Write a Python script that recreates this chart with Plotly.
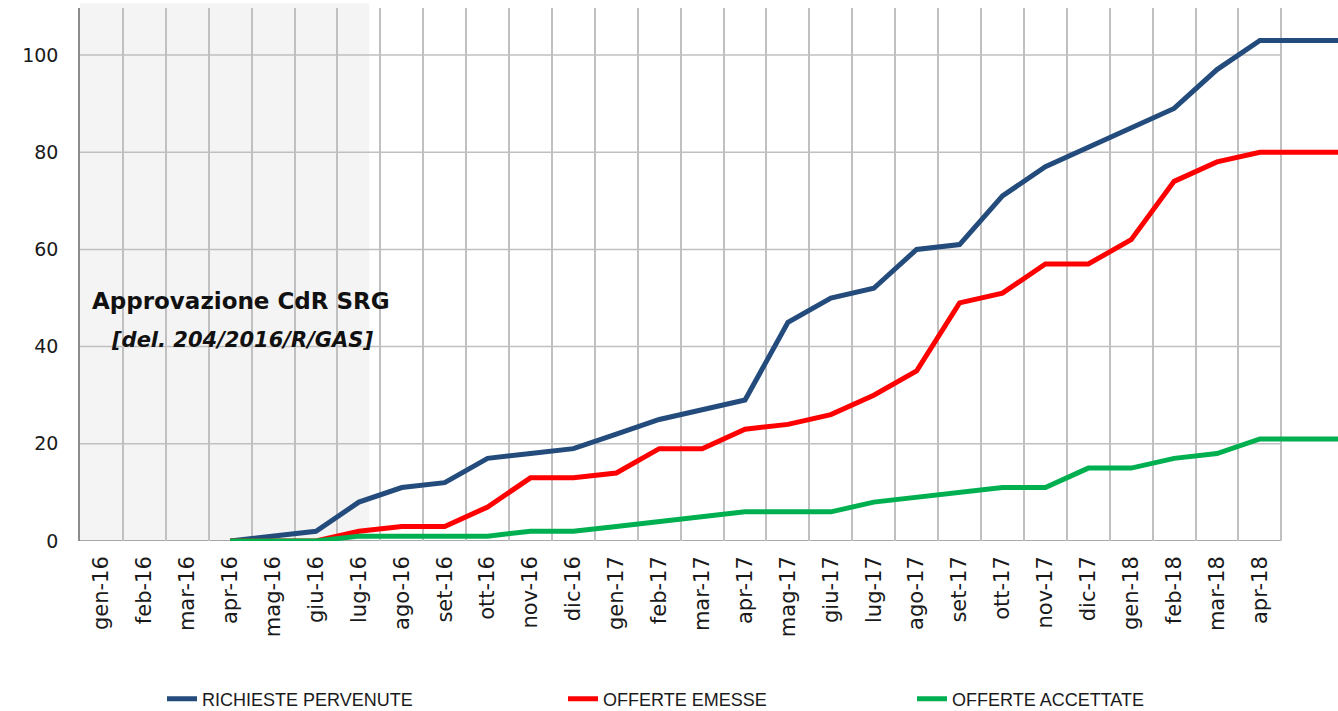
import plotly.graph_objects as go

months = ["gen-16", "feb-16", "mar-16", "apr-16", "mag-16", "giu-16", "lug-16",
          "ago-16", "set-16", "ott-16", "nov-16", "dic-16", "gen-17", "feb-17",
          "mar-17", "apr-17", "mag-17", "giu-17", "lug-17", "ago-17", "set-17",
          "ott-17", "nov-17", "dic-17", "gen-18", "feb-18", "mar-18", "apr-18"]
# unlabeled continuation periods after apr-18 (lines run on flat to the edge)
ext_months = ["mag-18", "giu-18"]

richieste_pervenute = [None, None, None, 0, 1, 2, 8, 11, 12, 17, 18, 19, 22, 25, 27, 29,
                       45, 50, 52, 60, 61, 71, 77, 81, 85, 89, 97, 103, 103, 103]
offerte_emesse = [None, None, None, 0, 0, 0, 2, 3, 3, 7, 13, 13, 14, 19, 19, 23,
                  24, 26, 30, 35, 49, 51, 57, 57, 62, 74, 78, 80, 80, 80]
offerte_accettate = [None, None, None, 0, 0, 0, 1, 1, 1, 1, 2, 2, 3, 4, 5, 6,
                     6, 6, 8, 9, 10, 11, 11, 15, 15, 17, 18, 21, 21, 21]

y_ticks = [0, 20, 40, 60, 80, 100]
approval_period_end = 6.24  # shaded region ends shortly after lug-16

all_periods = months + ext_months
xi = list(range(len(all_periods)))
n = len(months)

series = [
    ("RICHIESTE PERVENUTE", richieste_pervenute, "#234B7C", "legend"),
    ("OFFERTE EMESSE", offerte_emesse, "#FF0000", "legend2"),
    ("OFFERTE ACCETTATE", offerte_accettate, "#00B050", "legend3"),
]

fig = go.Figure()
for name, vals, col, lg in series:
    fig.add_trace(go.Scatter(
        x=xi, y=vals, name=name, mode="lines",
        line=dict(color=col, width=5), legend=lg, hoverinfo="skip",
    ))

shapes = []
# shaded approval period
shapes.append(dict(type="rect", xref="x", yref="paper", x0=-0.5, x1=approval_period_end,
                   y0=0, y1=1.009, fillcolor="#F4F4F4", line=dict(width=0), layer="below"))
# horizontal gridlines (stop at last category boundary)
for v in y_ticks[1:]:
    shapes.append(dict(type="line", xref="x", yref="y", x0=-0.5, x1=n - 0.5, y0=v, y1=v,
                       line=dict(color="#C0C0C0", width=1.5), layer="below"))
# x axis baseline
shapes.append(dict(type="line", xref="x", yref="y", x0=-0.5, x1=n - 0.5, y0=0, y1=0,
                   line=dict(color="#8C8C8C", width=1.5), layer="below"))

tick_font_y = dict(family="DejaVu Sans, Verdana, sans-serif", size=19, color="#1A1A1A")
tick_font_x = dict(family="DejaVu Sans, Verdana, sans-serif", size=21, color="#1A1A1A")
legend_font = dict(family="Liberation Sans, Arial, sans-serif", size=18, color="#1A1A1A")

legend_common = dict(orientation="h", xref="container", yref="container",
                     y=12 / 711, xanchor="left", yanchor="middle",
                     font=legend_font, bgcolor="rgba(0,0,0,0)")

fig.update_layout(
    width=1338, height=711,
    margin=dict(l=80, r=0, t=8, b=170),
    paper_bgcolor="white", plot_bgcolor="white",
    showlegend=True,
    shapes=shapes,
    xaxis=dict(
        range=[-0.5, 28.82],
        tickmode="array", tickvals=list(range(n)), ticktext=months,
        tickangle=-90, tickfont=tick_font_x, ticks="", showgrid=False,
        zeroline=False, showline=False, ticklabelstandoff=10,
        minor=dict(tickmode="array", tickvals=[i - 0.5 for i in range(n + 1)],
                   showgrid=True, gridcolor="#C0C0C0", gridwidth=1.5, ticks=""),
    ),
    yaxis=dict(
        range=[0, 109.67], tickmode="array", tickvals=y_ticks,
        tickfont=tick_font_y, ticks="", showgrid=False, zeroline=False,
        showline=True, linecolor="#8C8C8C", linewidth=1.5, ticklabelstandoff=16,
    ),
    legend=dict(legend_common, x=162 / 1338),
    legend2=dict(legend_common, x=563 / 1338),
    legend3=dict(legend_common, x=912 / 1338),
    annotations=[
        dict(text="<b>Approvazione CdR SRG</b>", xref="x", yref="y", x=3.25, y=49.4,
             showarrow=False, font=dict(family="DejaVu Sans, Verdana, sans-serif",
                                        size=23, color="#111111")),
        dict(text="<b><i>[del. 204/2016/R/GAS]</i></b>", xref="x", yref="y", x=3.27, y=41.4,
             showarrow=False, font=dict(family="DejaVu Sans, Verdana, sans-serif",
                                        size=21, color="#111111")),
    ],
)

fig.write_html("out.html", config={"displayModeBar": False},
               post_script="document.body.style.margin='0';")
